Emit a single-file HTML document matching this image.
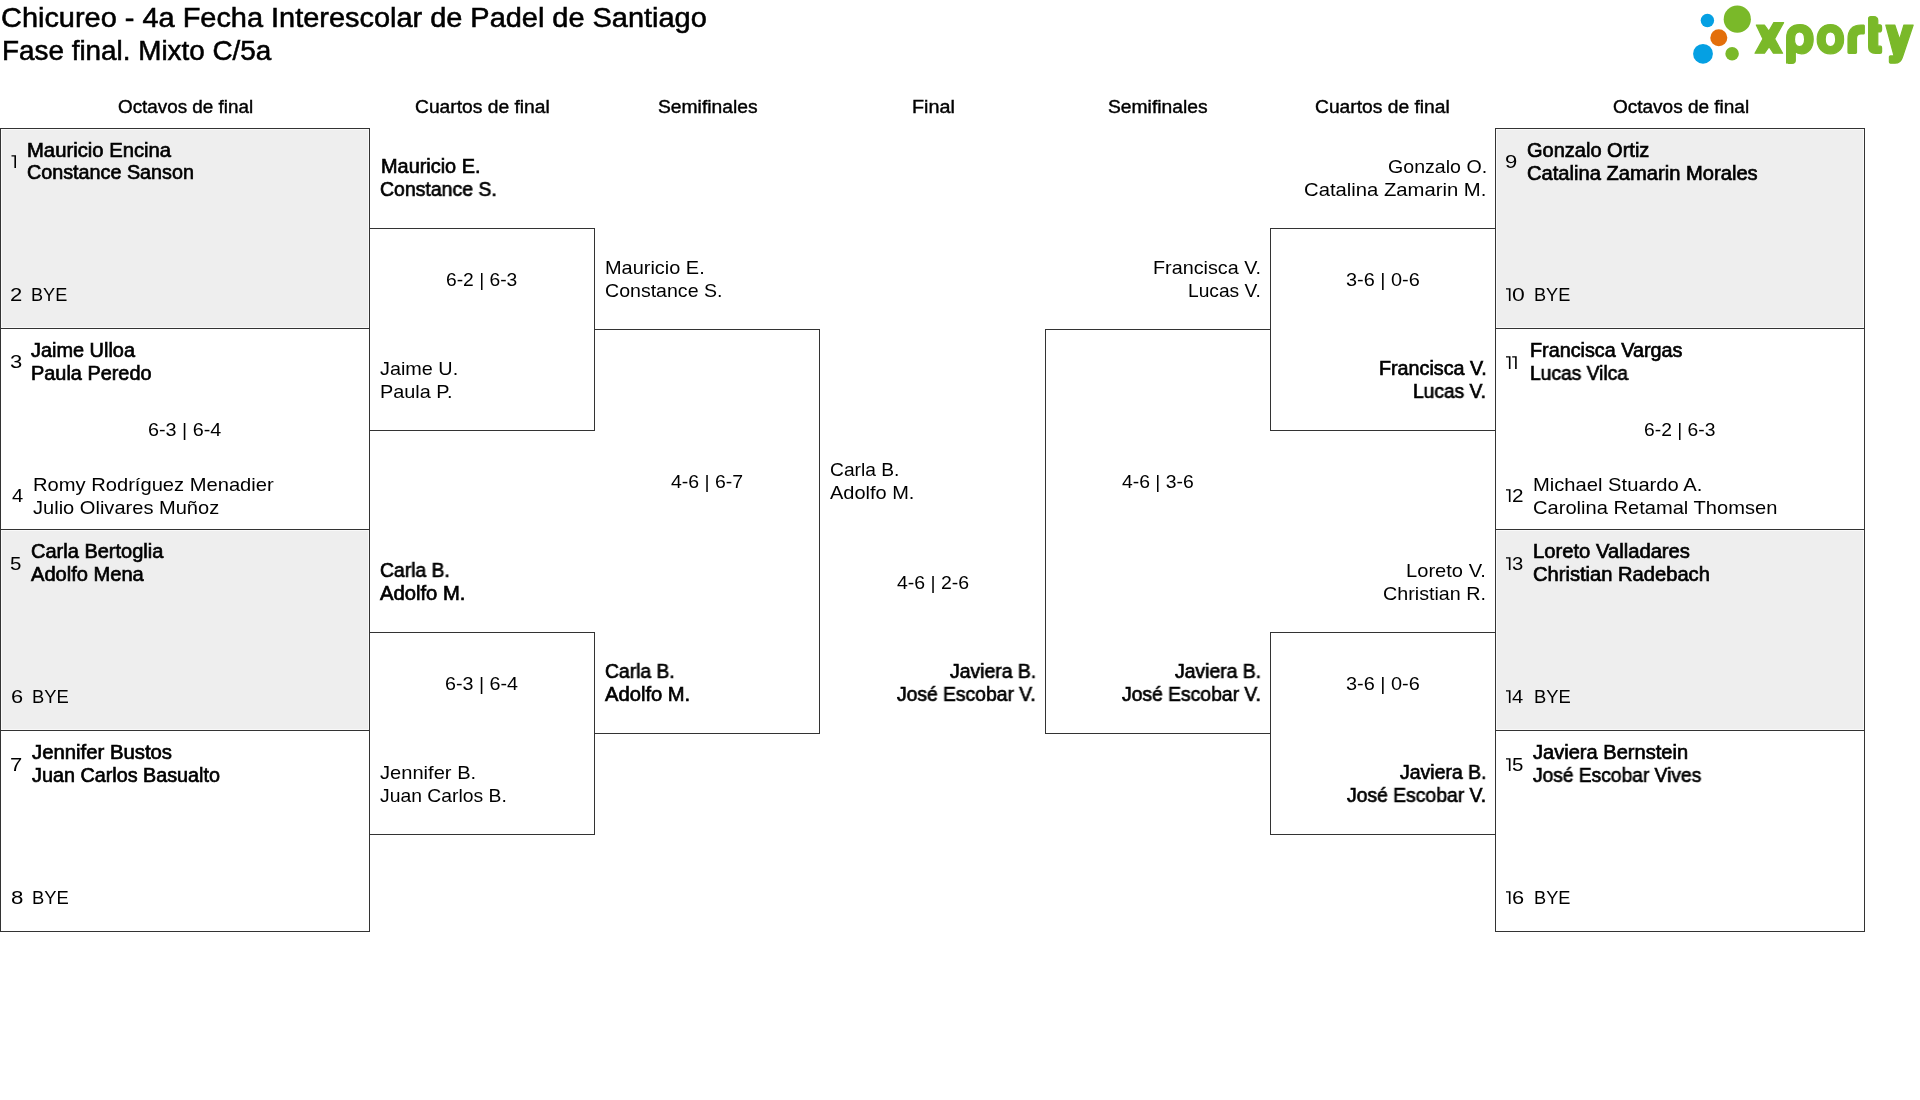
<!DOCTYPE html>
<html lang="es"><head><meta charset="utf-8"><title>Chicureo - 4a Fecha Interescolar de Padel de Santiago</title>
<style>
html,body{margin:0;padding:0;background:#fff}
#w{position:relative;width:1920px;height:1100px;overflow:hidden;background:#fff}
.r{position:absolute;box-sizing:border-box;border:1px solid #333}
.f{position:absolute;background:#eeeeee}
.t{position:absolute;white-space:nowrap;font-family:"Liberation Sans",sans-serif;line-height:1;color:#000;transform-origin:0 0;will-change:transform}
.logo{position:absolute;left:0;top:0}
</style></head><body><div id="w">
<svg class="logo" width="1920" height="80" viewBox="0 0 1920 80">
<circle cx="1707.4" cy="20.5" r="6.7" fill="#05a0e3"/>
<circle cx="1737.3" cy="19.2" r="13.6" fill="#7ab929"/>
<circle cx="1718.8" cy="37.7" r="8.5" fill="#e36f0b"/>
<circle cx="1703" cy="53.8" r="9.9" fill="#05a0e3"/>
<circle cx="1732.1" cy="53.7" r="6.75" fill="#7ab929"/>
<g fill="#7ab929" stroke="#7ab929" stroke-width="1.2" stroke-linejoin="round">
<path d="M1756.3,25 L1764.4,25 L1768.8,31.2 L1773.8,22.6 L1783.6,22.6 L1774.6,38.9 L1782.6,53.2 L1773.4,53.2 L1769.1,46.6 L1764.5,53.2 L1755,53.2 L1763,38.9 Z"/>
<path fill-rule="evenodd" d="M1786.6,63.1 L1786.6,38 C1786.6,29 1792,24.6 1800,24.6 C1808.5,24.6 1813.2,30.5 1813.2,39.2 C1813.2,48 1808.5,53.8 1801.5,53.8 C1798.5,53.8 1796.5,52.8 1795.3,51.5 L1795.3,60.5 C1795.3,62.5 1794.2,63.3 1792,63.3 L1788.5,63.3 C1787.2,63.3 1786.6,62.5 1786.6,61.5 Z M1799.5,32 C1795.8,32 1794.5,35 1794.5,39.3 C1794.5,43.6 1795.8,46.6 1799.5,46.6 C1803.2,46.6 1804.6,43.6 1804.6,39.3 C1804.6,35 1803.2,32 1799.5,32 Z"/>
<path fill-rule="evenodd" d="M1830.4,24.6 C1838.5,24.6 1843.6,30.5 1843.6,39.2 C1843.6,48 1838.5,53.8 1830.4,53.8 C1822.3,53.8 1817.2,48 1817.2,39.2 C1817.2,30.5 1822.3,24.6 1830.4,24.6 Z M1830.45,32 C1826.6,32 1825.2,35 1825.2,39.3 C1825.2,43.6 1826.6,46.6 1830.45,46.6 C1834.3,46.6 1835.7,43.6 1835.7,39.3 C1835.7,35 1834.3,32 1830.45,32 Z"/>
<path d="M1848,52.5 L1848,39 C1848,29.5 1853,25 1861,25 L1863.8,25 C1864.3,25 1864.3,25.5 1864.3,26 L1864.3,33 C1864.3,33.5 1864,34 1863.5,34 L1861,34 C1858,34 1856.5,35.5 1856.5,38.5 L1856.5,52.5 C1856.5,53 1856,53.3 1855.5,53.3 L1849,53.3 C1848.4,53.3 1848,53 1848,52.5 Z"/>
<path d="M1868.6,18.5 C1868.6,17 1869.5,16.5 1871,16.5 L1873.5,16.5 C1876.5,16.5 1877.8,18 1877.8,20.5 L1877.8,24.8 L1880,24.8 C1881.2,24.8 1881.6,25.5 1881.6,27.5 L1881.6,29.5 C1881.6,31.5 1880.8,32 1879.5,32 L1877.8,32 L1877.8,46.2 L1880.3,46.2 C1881.2,46.2 1881.6,46.8 1881.6,47.8 L1881.6,52 C1881.6,53 1881,53.3 1880,53.3 L1875.5,53.3 C1871,53.3 1868.6,51 1868.6,47 Z"/>
<path d="M1885.8,25 L1894.8,25 L1899.6,39.5 L1903.9,25 L1913.2,25 L1902.5,57 C1901.3,61 1899.5,63.2 1895,63.2 L1890.5,63.2 C1889.7,63.2 1889.4,62.8 1889.4,62 L1889.4,56.8 C1889.4,56.2 1889.7,55.9 1890.4,55.9 L1894,55.9 Z"/>
</g></svg>
<div style="position:absolute;left:1px;top:129px;width:368px;height:199px;background:#f9f9f9"></div>
<div class="f" style="left:2px;top:130px;width:366px;height:197px"></div>
<div style="position:absolute;left:1px;top:530px;width:368px;height:200px;background:#f9f9f9"></div>
<div class="f" style="left:2px;top:531px;width:366px;height:198px"></div>
<div style="position:absolute;left:1496px;top:129px;width:368px;height:199px;background:#f9f9f9"></div>
<div class="f" style="left:1497px;top:130px;width:366px;height:197px"></div>
<div style="position:absolute;left:1496px;top:530px;width:368px;height:200px;background:#f9f9f9"></div>
<div class="f" style="left:1497px;top:531px;width:366px;height:198px"></div>
<div class="r" style="left:0px;top:128px;width:370px;height:201px;"></div>
<div class="r" style="left:0px;top:328px;width:370px;height:202px;"></div>
<div class="r" style="left:0px;top:529px;width:370px;height:202px;"></div>
<div class="r" style="left:0px;top:730px;width:370px;height:202px;"></div>
<div class="r" style="left:1495px;top:128px;width:370px;height:201px;"></div>
<div class="r" style="left:1495px;top:328px;width:370px;height:202px;"></div>
<div class="r" style="left:1495px;top:529px;width:370px;height:202px;"></div>
<div class="r" style="left:1495px;top:730px;width:370px;height:202px;"></div>
<div class="r" style="left:369px;top:228px;width:226px;height:203px;"></div>
<div class="r" style="left:369px;top:632px;width:226px;height:203px;"></div>
<div class="r" style="left:1270px;top:228px;width:226px;height:203px;"></div>
<div class="r" style="left:1270px;top:632px;width:226px;height:203px;"></div>
<div class="r" style="left:594px;top:329px;width:226px;height:405px;border-left:none;"></div>
<div class="r" style="left:1045px;top:329px;width:226px;height:405px;border-right:none;"></div>
<div class="t" style="left:1.20px;top:4.0px;font-size:27.5px;font-weight:400;-webkit-text-stroke:0.55px #000;transform:scaleX(1.0516);">Chicureo - 4a Fecha Interescolar de Padel de Santiago</div>
<div class="t" style="left:1.72px;top:37.0px;font-size:27.5px;font-weight:400;-webkit-text-stroke:0.55px #000;transform:scaleX(1.0127);">Fase final. Mixto C/5a</div>
<div class="t" style="left:117.80px;top:98.0px;font-size:18px;font-weight:400;-webkit-text-stroke:0.4px #000;transform:scaleX(1.0469);">Octavos de final</div>
<div class="t" style="left:415.18px;top:98.0px;font-size:18px;font-weight:400;-webkit-text-stroke:0.4px #000;transform:scaleX(1.0685);">Cuartos de final</div>
<div class="t" style="left:657.68px;top:98.0px;font-size:18px;font-weight:400;-webkit-text-stroke:0.4px #000;transform:scaleX(1.0701);">Semifinales</div>
<div class="t" style="left:911.70px;top:98.0px;font-size:18px;font-weight:400;-webkit-text-stroke:0.4px #000;transform:scaleX(1.0973);">Final</div>
<div class="t" style="left:1107.68px;top:98.0px;font-size:18px;font-weight:400;-webkit-text-stroke:0.4px #000;transform:scaleX(1.0701);">Semifinales</div>
<div class="t" style="left:1315.18px;top:98.0px;font-size:18px;font-weight:400;-webkit-text-stroke:0.4px #000;transform:scaleX(1.0685);">Cuartos de final</div>
<div class="t" style="left:1612.50px;top:98.0px;font-size:18px;font-weight:400;-webkit-text-stroke:0.4px #000;transform:scaleX(1.0547);">Octavos de final</div>
<div class="t" style="left:27.06px;top:141.0px;font-size:19.5px;font-weight:400;-webkit-text-stroke:0.65px #000;transform:scaleX(1.0384);">Mauricio Encina</div>
<div class="t" style="left:27.09px;top:163.0px;font-size:19.5px;font-weight:400;-webkit-text-stroke:0.65px #000;transform:scaleX(1.0129);">Constance Sanson</div>
<div class="t" style="left:9.68px;top:286.0px;font-size:18px;font-weight:400;transform:scaleX(1.2250);">2</div>
<div class="t" style="left:31.29px;top:286.0px;font-size:18px;font-weight:400;transform:scaleX(1.0059);">BYE</div>
<div class="t" style="left:9.68px;top:353.0px;font-size:18px;font-weight:400;transform:scaleX(1.2250);">3</div>
<div class="t" style="left:31.20px;top:341.0px;font-size:19.5px;font-weight:400;-webkit-text-stroke:0.65px #000;transform:scaleX(1.0206);">Jaime Ulloa</div>
<div class="t" style="left:31.28px;top:364.0px;font-size:19.5px;font-weight:400;-webkit-text-stroke:0.65px #000;transform:scaleX(1.0197);">Paula Peredo</div>
<div class="t" style="left:147.90px;top:421.0px;font-size:18px;font-weight:400;transform:scaleX(1.0985);">6-3 | 6-4</div>
<div class="t" style="left:11.70px;top:487.0px;font-size:18px;font-weight:400;transform:scaleX(1.1200);">4</div>
<div class="t" style="left:32.74px;top:475.0px;font-size:19.0px;font-weight:400;transform:scaleX(1.0602);">Romy Rodríguez Menadier</div>
<div class="t" style="left:32.70px;top:498.0px;font-size:19.0px;font-weight:400;transform:scaleX(1.0560);">Julio Olivares Muñoz</div>
<div class="t" style="left:10.36px;top:555.0px;font-size:18px;font-weight:400;transform:scaleX(1.1375);">5</div>
<div class="t" style="left:30.57px;top:542.0px;font-size:19.5px;font-weight:400;-webkit-text-stroke:0.65px #000;transform:scaleX(1.0264);">Carla Bertoglia</div>
<div class="t" style="left:31.10px;top:565.0px;font-size:19.5px;font-weight:400;-webkit-text-stroke:0.65px #000;transform:scaleX(1.0300);">Adolfo Mena</div>
<div class="t" style="left:10.59px;top:688.0px;font-size:18px;font-weight:400;transform:scaleX(1.2125);">6</div>
<div class="t" style="left:32.18px;top:688.0px;font-size:18px;font-weight:400;transform:scaleX(1.0206);">BYE</div>
<div class="t" style="left:9.97px;top:756.0px;font-size:18px;font-weight:400;transform:scaleX(1.2250);">7</div>
<div class="t" style="left:32.20px;top:743.0px;font-size:19.5px;font-weight:400;-webkit-text-stroke:0.65px #000;transform:scaleX(1.0418);">Jennifer Bustos</div>
<div class="t" style="left:32.20px;top:766.0px;font-size:19.5px;font-weight:400;-webkit-text-stroke:0.65px #000;transform:scaleX(1.0141);">Juan Carlos Basualto</div>
<div class="t" style="left:10.56px;top:889.0px;font-size:18px;font-weight:400;transform:scaleX(1.2375);">8</div>
<div class="t" style="left:32.18px;top:889.0px;font-size:18px;font-weight:400;transform:scaleX(1.0206);">BYE</div>
<div class="t" style="left:380.58px;top:157.0px;font-size:19.5px;font-weight:400;-webkit-text-stroke:0.65px #000;transform:scaleX(1.0200);">Mauricio E.</div>
<div class="t" style="left:379.60px;top:180.0px;font-size:19.5px;font-weight:400;-webkit-text-stroke:0.65px #000;transform:scaleX(0.9965);">Constance S.</div>
<div class="t" style="left:445.63px;top:271.0px;font-size:18px;font-weight:400;transform:scaleX(1.0692);">6-2 | 6-3</div>
<div class="t" style="left:380.10px;top:359.0px;font-size:19.0px;font-weight:400;transform:scaleX(1.0425);">Jaime U.</div>
<div class="t" style="left:380.45px;top:382.0px;font-size:19.0px;font-weight:400;transform:scaleX(1.0463);">Paula P.</div>
<div class="t" style="left:379.61px;top:561.0px;font-size:19.5px;font-weight:400;-webkit-text-stroke:0.65px #000;transform:scaleX(0.9912);">Carla B.</div>
<div class="t" style="left:380.20px;top:584.0px;font-size:19.5px;font-weight:400;-webkit-text-stroke:0.65px #000;transform:scaleX(1.0358);">Adolfo M.</div>
<div class="t" style="left:445.00px;top:675.0px;font-size:18px;font-weight:400;transform:scaleX(1.0954);">6-3 | 6-4</div>
<div class="t" style="left:380.10px;top:763.0px;font-size:19.0px;font-weight:400;transform:scaleX(1.0584);">Jennifer B.</div>
<div class="t" style="left:380.10px;top:786.0px;font-size:19.0px;font-weight:400;transform:scaleX(1.0171);">Juan Carlos B.</div>
<div class="t" style="left:605.25px;top:258.0px;font-size:19.0px;font-weight:400;transform:scaleX(1.0489);">Mauricio E.</div>
<div class="t" style="left:604.67px;top:281.0px;font-size:19.0px;font-weight:400;transform:scaleX(1.0297);">Constance S.</div>
<div class="t" style="left:671.00px;top:473.0px;font-size:18px;font-weight:400;transform:scaleX(1.0818);">4-6 | 6-7</div>
<div class="t" style="left:604.71px;top:662.0px;font-size:19.5px;font-weight:400;-webkit-text-stroke:0.65px #000;transform:scaleX(0.9897);">Carla B.</div>
<div class="t" style="left:605.20px;top:685.0px;font-size:19.5px;font-weight:400;-webkit-text-stroke:0.65px #000;transform:scaleX(1.0346);">Adolfo M.</div>
<div class="t" style="left:829.59px;top:460.0px;font-size:19.0px;font-weight:400;transform:scaleX(1.0121);">Carla B.</div>
<div class="t" style="left:830.30px;top:483.0px;font-size:19.0px;font-weight:400;transform:scaleX(1.0519);">Adolfo M.</div>
<div class="t" style="left:897.00px;top:574.0px;font-size:18px;font-weight:400;transform:scaleX(1.0818);">4-6 | 2-6</div>
<div class="t" style="left:950.10px;top:662.0px;font-size:19.5px;font-weight:400;-webkit-text-stroke:0.65px #000;transform:scaleX(0.9941);">Javiera B.</div>
<div class="t" style="left:897.10px;top:685.0px;font-size:19.5px;font-weight:400;-webkit-text-stroke:0.65px #000;transform:scaleX(0.9892);">José Escobar V.</div>
<div class="t" style="left:1153.26px;top:258.0px;font-size:19.0px;font-weight:400;transform:scaleX(1.0406);">Francisca V.</div>
<div class="t" style="left:1187.69px;top:281.0px;font-size:19.0px;font-weight:400;transform:scaleX(1.0100);">Lucas V.</div>
<div class="t" style="left:1122.20px;top:473.0px;font-size:18px;font-weight:400;transform:scaleX(1.0758);">4-6 | 3-6</div>
<div class="t" style="left:1175.30px;top:662.0px;font-size:19.5px;font-weight:400;-webkit-text-stroke:0.65px #000;transform:scaleX(0.9929);">Javiera B.</div>
<div class="t" style="left:1122.00px;top:685.0px;font-size:19.5px;font-weight:400;-webkit-text-stroke:0.65px #000;transform:scaleX(0.9906);">José Escobar V.</div>
<div class="t" style="left:1387.57px;top:157.0px;font-size:19.0px;font-weight:400;transform:scaleX(1.0312);">Gonzalo O.</div>
<div class="t" style="left:1304.33px;top:180.0px;font-size:19.0px;font-weight:400;transform:scaleX(1.0661);">Catalina Zamarin M.</div>
<div class="t" style="left:1345.69px;top:271.0px;font-size:18px;font-weight:400;transform:scaleX(1.1062);">3-6 | 0-6</div>
<div class="t" style="left:1378.69px;top:359.0px;font-size:19.5px;font-weight:400;-webkit-text-stroke:0.65px #000;transform:scaleX(1.0115);">Francisca V.</div>
<div class="t" style="left:1413.12px;top:382.0px;font-size:19.5px;font-weight:400;-webkit-text-stroke:0.65px #000;transform:scaleX(0.9833);">Lucas V.</div>
<div class="t" style="left:1405.74px;top:561.0px;font-size:19.0px;font-weight:400;transform:scaleX(1.0589);">Loreto V.</div>
<div class="t" style="left:1382.86px;top:584.0px;font-size:19.0px;font-weight:400;transform:scaleX(1.0371);">Christian R.</div>
<div class="t" style="left:1345.69px;top:675.0px;font-size:18px;font-weight:400;transform:scaleX(1.1062);">3-6 | 0-6</div>
<div class="t" style="left:1400.10px;top:763.0px;font-size:19.5px;font-weight:400;-webkit-text-stroke:0.65px #000;transform:scaleX(0.9976);">Javiera B.</div>
<div class="t" style="left:1347.00px;top:786.0px;font-size:19.5px;font-weight:400;-webkit-text-stroke:0.65px #000;transform:scaleX(0.9921);">José Escobar V.</div>
<div class="t" style="left:1505.28px;top:153.0px;font-size:18px;font-weight:400;transform:scaleX(1.2250);">9</div>
<div class="t" style="left:1526.77px;top:141.0px;font-size:19.5px;font-weight:400;-webkit-text-stroke:0.65px #000;transform:scaleX(1.0263);">Gonzalo Ortiz</div>
<div class="t" style="left:1526.77px;top:164.0px;font-size:19.5px;font-weight:400;-webkit-text-stroke:0.65px #000;transform:scaleX(1.0333);">Catalina Zamarin Morales</div>
<div class="t" style="left:1511.82px;top:286.0px;font-size:18px;font-weight:400;transform:scaleX(1.2750);">0</div>
<div class="t" style="left:1534.49px;top:286.0px;font-size:18px;font-weight:400;transform:scaleX(1.0088);">BYE</div>
<div class="t" style="left:1529.69px;top:341.0px;font-size:19.5px;font-weight:400;-webkit-text-stroke:0.65px #000;transform:scaleX(1.0141);">Francisca Vargas</div>
<div class="t" style="left:1529.71px;top:364.0px;font-size:19.5px;font-weight:400;-webkit-text-stroke:0.65px #000;transform:scaleX(0.9859);">Lucas Vilca</div>
<div class="t" style="left:1643.63px;top:421.0px;font-size:18px;font-weight:400;transform:scaleX(1.0708);">6-2 | 6-3</div>
<div class="t" style="left:1511.65px;top:487.0px;font-size:18px;font-weight:400;transform:scaleX(1.1500);">2</div>
<div class="t" style="left:1533.04px;top:475.0px;font-size:19.0px;font-weight:400;transform:scaleX(1.0618);">Michael Stuardo A.</div>
<div class="t" style="left:1533.04px;top:498.0px;font-size:19.0px;font-weight:400;transform:scaleX(1.0581);">Carolina Retamal Thomsen</div>
<div class="t" style="left:1511.78px;top:555.0px;font-size:18px;font-weight:400;transform:scaleX(1.1250);">3</div>
<div class="t" style="left:1533.26px;top:542.0px;font-size:19.5px;font-weight:400;-webkit-text-stroke:0.65px #000;transform:scaleX(1.0367);">Loreto Valladares</div>
<div class="t" style="left:1532.77px;top:565.0px;font-size:19.5px;font-weight:400;-webkit-text-stroke:0.65px #000;transform:scaleX(1.0329);">Christian Radebach</div>
<div class="t" style="left:1512.30px;top:688.0px;font-size:18px;font-weight:400;transform:scaleX(1.1200);">4</div>
<div class="t" style="left:1534.08px;top:688.0px;font-size:18px;font-weight:400;transform:scaleX(1.0206);">BYE</div>
<div class="t" style="left:1511.66px;top:756.0px;font-size:18px;font-weight:400;transform:scaleX(1.1375);">5</div>
<div class="t" style="left:1533.30px;top:743.0px;font-size:19.5px;font-weight:400;-webkit-text-stroke:0.65px #000;transform:scaleX(1.0293);">Javiera Bernstein</div>
<div class="t" style="left:1533.30px;top:766.0px;font-size:19.5px;font-weight:400;-webkit-text-stroke:0.65px #000;transform:scaleX(0.9842);">José Escobar Vives</div>
<div class="t" style="left:1511.99px;top:889.0px;font-size:18px;font-weight:400;transform:scaleX(1.2125);">6</div>
<div class="t" style="left:1533.59px;top:889.0px;font-size:18px;font-weight:400;transform:scaleX(1.0118);">BYE</div>
<svg class="logo" width="1920" height="1100"><path fill="#000" d="M11.50,155.20 H16.00 V168 H14.40 V156.60 H11.50 Z M1506.00,288.20 H1510.50 V301 H1508.90 V289.60 H1506.00 Z M1506.00,356.20 H1510.50 V369 H1508.90 V357.60 H1506.00 Z M1512.20,356.20 H1516.70 V369 H1515.10 V357.60 H1512.20 Z M1506.00,489.20 H1510.50 V502 H1508.90 V490.60 H1506.00 Z M1506.00,557.20 H1510.50 V570 H1508.90 V558.60 H1506.00 Z M1506.00,690.20 H1510.50 V703 H1508.90 V691.60 H1506.00 Z M1506.00,758.20 H1510.50 V771 H1508.90 V759.60 H1506.00 Z M1506.00,891.20 H1510.50 V904 H1508.90 V892.60 H1506.00 Z"/></svg>
</div></body></html>
